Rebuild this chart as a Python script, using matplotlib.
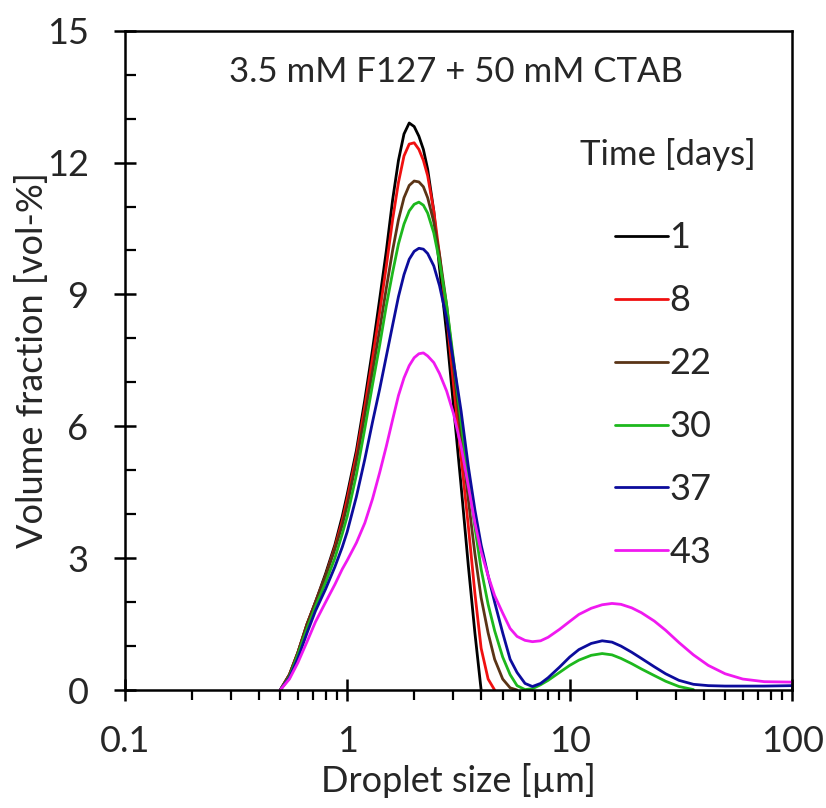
import matplotlib
matplotlib.use("Agg")
import matplotlib.pyplot as plt
from matplotlib.ticker import LogLocator, MultipleLocator, FuncFormatter, NullFormatter

plt.rcParams['font.family'] = ['Lato', 'DejaVu Sans']

nan = float('nan')

# droplet size grid [um]
size = [0.5, 0.55, 0.6, 0.66, 0.72, 0.8, 0.88, 0.95, 1.0, 1.1, 1.2, 1.3, 1.4, 1.5,
        1.6, 1.7, 1.8, 1.9, 2.0, 2.1, 2.2, 2.3, 2.45, 2.6, 2.8, 3.0, 3.25, 3.5, 3.75,
        4.0, 4.3, 4.6, 5.0, 5.4, 5.8, 6.3, 6.8, 7.4, 8.0, 9.0, 10, 11, 12.5, 14, 15.5,
        17, 19, 21, 24, 27, 31, 36, 42, 50, 60, 75, 100]

# volume fraction [vol-%] for each ageing time (nan = no signal)
day1 = [0, 0.35, 0.85, 1.5, 2.0, 2.65, 3.3, 3.95, 4.45, 5.45, 6.6, 7.75, 8.9, 10.0,
        11.15, 12.05, 12.65, 12.9, 12.82, 12.6, 12.3, 11.85, 10.9, 9.6, 8.1, 6.5, 4.65, 2.85, 1.3,
        0, nan, nan, nan, nan, nan, nan, nan, nan, nan, nan, nan, nan, nan, nan, nan,
        nan, nan, nan, nan, nan, nan, nan, nan, nan, nan, nan, nan]
day8 = [0, 0.35, 0.85, 1.5, 2.0, 2.6, 3.25, 3.85, 4.35, 5.35, 6.45, 7.55, 8.6, 9.65,
        10.7, 11.55, 12.15, 12.42, 12.45, 12.3, 12.05, 11.7, 10.9, 9.9, 8.5, 7.0, 5.3, 3.75, 2.2,
        0.95, 0.25, 0, nan, nan, nan, nan, nan, nan, nan, nan, nan, nan, nan, nan, nan,
        nan, nan, nan, nan, nan, nan, nan, nan, nan, nan, nan, nan]
day22 = [0, 0.35, 0.85, 1.5, 2.0, 2.6, 3.2, 3.75, 4.2, 5.2, 6.25, 7.25, 8.2, 9.15,
         10.0, 10.7, 11.2, 11.48, 11.58, 11.56, 11.45, 11.2, 10.65, 9.9, 8.75, 7.4, 5.8, 4.35, 3.1,
         2.1, 1.3, 0.7, 0.25, 0.05, 0, nan, nan, nan, nan, nan, nan, nan, nan, nan, nan,
         nan, nan, nan, nan, nan, nan, nan, nan, nan, nan, nan, nan]
day30 = [0, 0.3, 0.8, 1.4, 1.9, 2.45, 3.0, 3.55, 3.95, 4.9, 5.95, 6.95, 7.85, 8.75,
         9.5, 10.15, 10.6, 10.9, 11.05, 11.1, 11.03, 10.85, 10.4, 9.75, 8.75, 7.55, 6.1, 4.8, 3.7,
         2.75, 1.95, 1.35, 0.75, 0.35, 0.1, 0.01, 0.03, 0.12, 0.22, 0.4, 0.56, 0.68, 0.79, 0.83, 0.8,
         0.72, 0.6, 0.48, 0.33, 0.2, 0.08, 0.01, nan, nan, nan, nan, nan]
day37 = [0, 0.28, 0.72, 1.3, 1.8, 2.3, 2.8, 3.25, 3.6, 4.4, 5.25, 6.1, 6.85, 7.6,
         8.3, 8.95, 9.45, 9.8, 9.98, 10.05, 10.03, 9.93, 9.65, 9.2, 8.45, 7.5, 6.35, 5.1, 4.1,
         3.3, 2.6, 2.0, 1.3, 0.7, 0.4, 0.15, 0.08, 0.15, 0.28, 0.52, 0.75, 0.92, 1.06, 1.12, 1.09,
         1.0, 0.86, 0.72, 0.53, 0.37, 0.22, 0.13, 0.1, 0.09, 0.09, 0.09, 0.1]
day43 = [0, 0.25, 0.62, 1.1, 1.55, 2.0, 2.4, 2.75, 2.95, 3.35, 3.8, 4.35, 4.95, 5.55,
         6.15, 6.7, 7.1, 7.38, 7.56, 7.65, 7.67, 7.6, 7.45, 7.2, 6.8, 6.3, 5.55, 4.65, 3.8,
         3.15, 2.6, 2.15, 1.75, 1.4, 1.22, 1.13, 1.1, 1.12, 1.2, 1.38, 1.56, 1.72, 1.86, 1.94, 1.97,
         1.95, 1.87, 1.76, 1.57, 1.36, 1.08, 0.8, 0.56, 0.37, 0.25, 0.19, 0.18]

days = ['1', '8', '22', '30', '37', '43']
series = [day1, day8, day22, day30, day37, day43]
colors = ['#000000', '#f01010', '#5a3416', '#1db81d', '#0c0c9c', '#f019f0']

txt = '#262626'

fig = plt.figure(figsize=(8.26, 8.08), dpi=100)
ax = fig.add_axes([0.151, 0.146, 0.808, 0.816])

for lab, y, c in zip(days, series, colors):
    ax.plot(size, y, color=c, lw=2.0, label=lab, solid_capstyle='round')

ax.set_xscale('log')
ax.set_xlim(0.1, 100)
ax.set_ylim(0, 15)
ax.yaxis.set_major_locator(MultipleLocator(3))
ax.yaxis.set_minor_locator(MultipleLocator(1))
ax.xaxis.set_major_locator(LogLocator(base=10))
ax.xaxis.set_minor_locator(LogLocator(base=10, subs=range(2, 10)))
ax.xaxis.set_major_formatter(FuncFormatter(lambda v, p: '%g' % v))
ax.xaxis.set_minor_formatter(NullFormatter())

for s in ax.spines.values():
    s.set_linewidth(1.8)
ax.tick_params(axis='x', which='major', direction='inout', length=16, width=1.8,
               labelsize=26, colors='black', labelcolor=txt, pad=17)
ax.tick_params(axis='x', which='minor', direction='out', length=7, width=1.6)
ax.tick_params(axis='y', which='major', direction='inout', length=16, width=1.8,
               labelsize=26, colors='black', labelcolor=txt, pad=18)
ax.tick_params(axis='y', which='minor', direction='in', length=8, width=1.6)

ax.set_xlabel('Droplet size [µm]', fontsize=26, color=txt, labelpad=4)
ax.set_ylabel('Volume fraction [vol-%]', fontsize=26, color=txt, labelpad=-2)

ax.text(0.497, 0.938, '3.5 mM F127 + 50 mM CTAB', transform=ax.transAxes,
        ha='center', va='center', fontsize=25, color=txt)
ax.text(0.814, 0.812, 'Time [days]', transform=ax.transAxes,
        ha='center', va='center', fontsize=25, color=txt)

leg = ax.legend(loc='upper left', bbox_to_anchor=(0.735, 0.711), frameon=False,
                fontsize=26, handlelength=1.45, handletextpad=0.05, labelspacing=0.83,
                borderpad=0, borderaxespad=0)
for t in leg.get_texts():
    t.set_color(txt)

fig.savefig('out.png', dpi=100)
